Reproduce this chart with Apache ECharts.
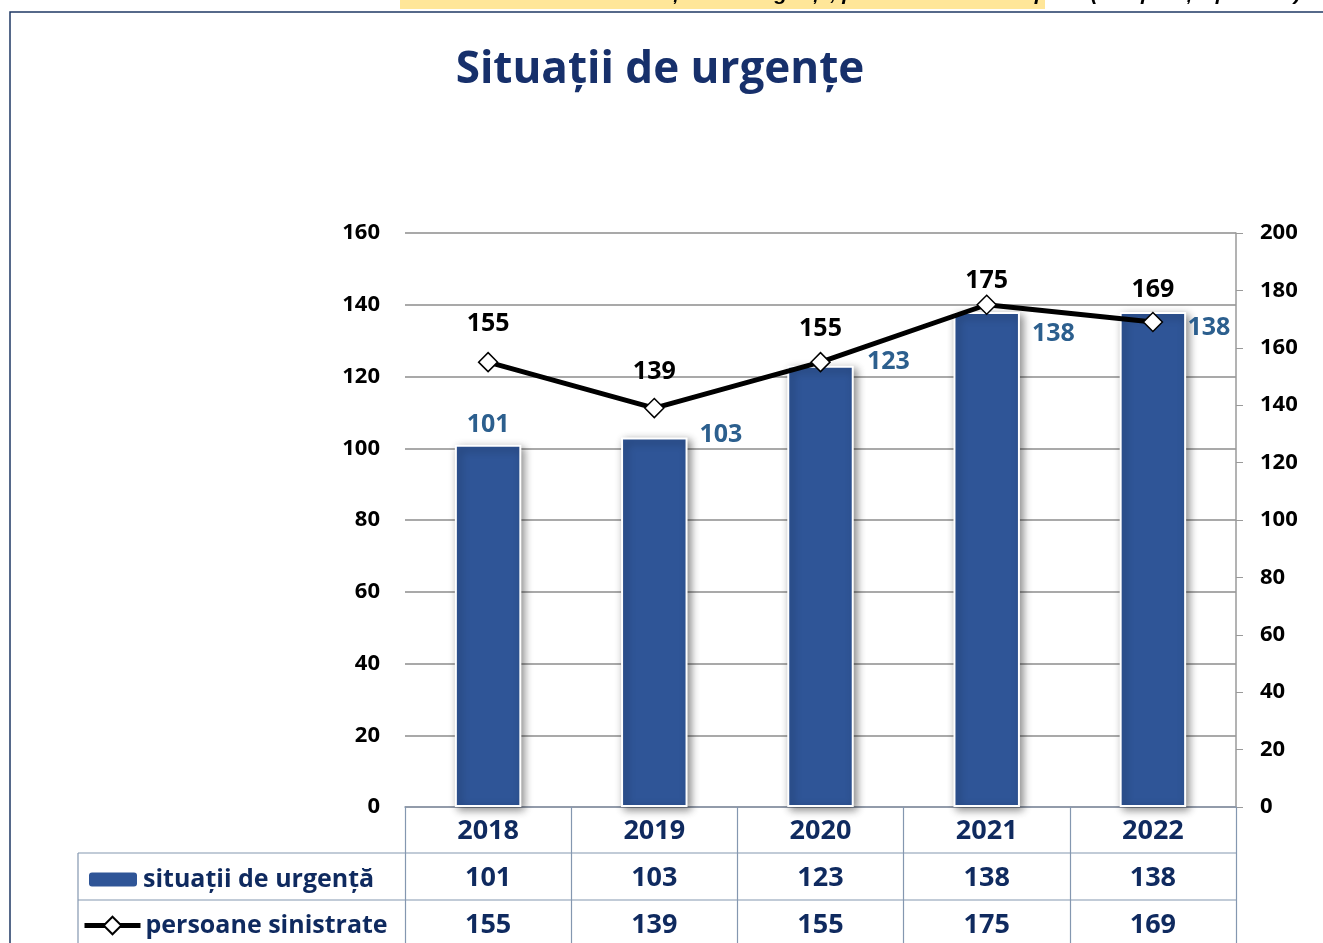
<!DOCTYPE html>
<html>
<head>
<meta charset="utf-8">
<script src="https://cdn.jsdelivr.net/npm/echarts@6/dist/echarts.min.js"></script>
<style>
  html, body { margin: 0; padding: 0; background: #fff; }
  #chart { width: 1323px; height: 943px; }
</style>
</head>
<body>
<div id="chart"></div>
<script>
var years = ['2018', '2019', '2020', '2021', '2022'];
var urgente = [101, 103, 123, 138, 138];
var sinistrati = [155, 139, 155, 175, 169];
var leftTicks = [0, 160, 20];
var rightTicks = [0, 200, 20];

// label offsets, one per year (style only)
var barLabelPos = ['top', ['118%', -3], ['120%', -4], ['118%', 22], ['102%', 16]];
var lineLabelDist = [16, 13, 11, 1, 9];

var navy = '#0F2A5F';
var font = '"Open Sans", "Noto Sans", sans-serif';

var chart = echarts.init(document.getElementById('chart'));

var barData = urgente.map(function (v, i) {
  var p = barLabelPos[i];
  return {
    value: v,
    label: p === 'top'
      ? { position: 'top', distance: 7 }
      : { position: p, align: 'left', verticalAlign: 'middle' }
  };
});
var lineData = sinistrati.map(function (v, i) {
  return { value: v, label: { distance: lineLabelDist[i] } };
});

var legendText = { fontSize: 25, fontWeight: 'bold', color: navy, fontFamily: font };

var option = {
  backgroundColor: '#fff',
  textStyle: { fontFamily: font },
  title: {
    text: 'Situații de urgențe',
    left: 655,
    textAlign: 'center',
    top: 43,
    textStyle: { fontFamily: font, fontSize: 44, fontWeight: 'bold', color: '#17306B' }
  },
  legend: [{
    left: 82,
    top: 862,
    itemWidth: 50,
    itemHeight: 16,
    selectedMode: false,
    textStyle: legendText,
    data: ['situații de urgență']
  }, {
    left: 77,
    top: 908,
    itemWidth: 56,
    itemHeight: 22,
    selectedMode: false,
    textStyle: legendText,
    lineStyle: { width: 5, color: '#000' },
    data: ['persoane sinistrate']
  }],
  grid: { left: 405, right: 87, top: 233, bottom: 136, outerBoundsMode: 'none' },
  xAxis: {
    type: 'category',
    data: years,
    axisLine: { lineStyle: { color: '#8a96aa', width: 1.5 } },
    axisTick: { show: true, interval: 0, length: 136, lineStyle: { color: '#8497B0', width: 1.2 } },
    axisLabel: {
      interval: 0,
      margin: 1,
      fontSize: 27,
      fontWeight: 'bold',
      color: navy,
      lineHeight: 47,
      formatter: function (v, i) {
        return v + '\n' + urgente[i] + '\n' + sinistrati[i];
      }
    }
  },
  yAxis: [{
    type: 'value',
    min: leftTicks[0], max: leftTicks[1], interval: leftTicks[2],
    axisLine: { show: false },
    axisTick: { show: false },
    axisLabel: { fontSize: 22, fontWeight: 'bold', color: '#000', margin: 25 },
    splitLine: { lineStyle: { color: '#8c8c8c', width: 1.5 } }
  }, {
    type: 'value',
    min: rightTicks[0], max: rightTicks[1], interval: rightTicks[2],
    axisLine: { show: true, lineStyle: { color: '#9a9a9a', width: 1.5 } },
    axisTick: { show: true, length: 7, lineStyle: { color: '#9a9a9a' } },
    axisLabel: { fontSize: 22, fontWeight: 'bold', color: '#000', margin: 24 },
    splitLine: { show: false }
  }],
  series: [{
    name: 'situații de urgență',
    type: 'bar',
    barWidth: '40%',
    data: barData,
    itemStyle: {
      color: '#2F5597',
      borderColor: '#fff',
      borderWidth: 2,
      shadowColor: 'rgba(0,0,0,0.45)',
      shadowBlur: 8,
      shadowOffsetX: 3,
      shadowOffsetY: 3
    },
    label: { show: true, fontSize: 25, fontWeight: 'bold', color: '#2C5F8E', fontFamily: font }
  }, {
    name: 'persoane sinistrate',
    type: 'line',
    yAxisIndex: 1,
    data: lineData,
    symbol: 'diamond',
    symbolSize: 19,
    lineStyle: { color: '#000', width: 5 },
    itemStyle: { color: '#fff', borderColor: '#000', borderWidth: 1.5 },
    label: { show: true, position: 'top', fontSize: 25, fontWeight: 'bold', color: '#000', fontFamily: font },
    z: 5
  }],
  graphic: [
    { type: 'rect', shape: { x: 10, y: 12, width: 1400, height: 1000 }, style: { fill: 'none', stroke: '#1F3864', lineWidth: 1.5 }, silent: true },
    { type: 'rect', shape: { x: 400, y: 0, width: 645, height: 9 }, style: { fill: '#FFE699' }, silent: true },
    { type: 'text', x: 288, y: -16, style: { text: 'Grafic nr.: Distribuirea numărului situațiilor de urgență, perioada ianuarie-aprilie (comparație pe 5 ani)', font: 'italic bold 21px "Liberation Sans", Arial, sans-serif', fill: '#000' }, silent: true },
    { type: 'line', shape: { x1: 78, y1: 853, x2: 1236, y2: 853 }, style: { stroke: '#8497B0', lineWidth: 1.2 }, silent: true },
    { type: 'line', shape: { x1: 78, y1: 900, x2: 1236, y2: 900 }, style: { stroke: '#8497B0', lineWidth: 1.2 }, silent: true },
    { type: 'line', shape: { x1: 78, y1: 853, x2: 78, y2: 943 }, style: { stroke: '#8497B0', lineWidth: 1.2 }, silent: true }
  ]
};

chart.setOption(option);
</script>
</body>
</html>
